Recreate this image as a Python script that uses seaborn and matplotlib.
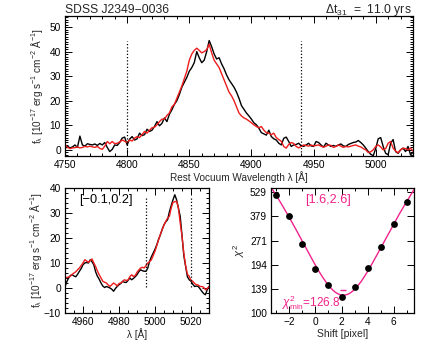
import numpy as np
import pandas as pd
import matplotlib
matplotlib.use("Agg")
import matplotlib.pyplot as plt
from matplotlib.ticker import MultipleLocator, FixedLocator, NullLocator, NullFormatter
import seaborn as sns

# ---------------- data ----------------
wl_top = np.arange(4750, 5031, 2)
flux_top_black = [
    0.5, 1.5, 0.8, 1.2, 2.0, 1.0, 5.6, 2.0, 1.5, 2.5,
    2.2, 2.0, 2.4, 1.8, 2.6, 2.0, 3.0, 1.0, -0.7, 0.2,
    2.0, 1.8, 3.0, 4.8, 5.2, 2.0, 4.4, 5.4, 4.0, 4.5,
    6.8, 5.8, 6.2, 8.4, 7.5, 8.0, 9.5, 11.5, 9.8, 10.8,
    13.0, 11.5, 14.5, 16.3, 18.5, 20.0, 22.5, 25.5, 27.5, 29.5,
    32.0, 33.5, 35.5, 40.0, 37.5, 35.5, 36.5, 40.0, 44.5, 42.0,
    39.0, 37.0, 37.5, 35.0, 33.0, 30.5, 28.5, 27.0, 25.5, 23.5,
    21.0, 18.0, 16.5, 15.0, 13.8, 12.5, 11.0, 10.2, 8.8, 7.0,
    6.5, 6.0, 8.0, 5.4, 4.5, 4.0, 2.7, 2.0, 4.7, 5.2,
    3.4, 1.4, 2.0, 2.2, 2.7, 1.6, 1.4, 2.0, 2.7, 1.6,
    1.4, 3.4, 3.0, 2.0, 1.1, 2.7, 2.0, 1.4, 1.8, 1.4,
    2.0, 2.4, 1.6, 1.4, 2.2, 2.6, 3.0, 3.2, 3.8, 3.0,
    2.0, 0.7, -0.7, -1.8, -2.4, 0.5, 4.5, 5.0, 1.4, -1.4,
    -2.0, 2.7, 4.2, -0.7, -1.4, 0.0, 0.7, -0.7, 1.4, -2.0,
    -1.0]
flux_top_red = [
    2.2, 1.0, 0.5, 0.8, 0.9, 1.2, 0.8, 1.0, 1.4, 1.2,
    1.5, 1.2, 1.0, 1.4, 0.6, 0.2, 1.5, 3.4, 2.5, 3.4,
    2.5, 2.7, 3.2, 4.0, 3.5, 3.0, 4.0, 3.6, 4.8, 5.4,
    5.0, 6.2, 7.5, 6.8, 8.0, 9.0, 9.2, 10.2, 11.5, 12.5,
    12.5, 14.0, 15.0, 17.5, 18.5, 21.0, 23.5, 26.0, 29.0, 32.0,
    36.5, 39.0, 40.5, 41.4, 40.5, 39.5, 40.0, 40.8, 43.0, 39.5,
    36.5, 35.0, 33.5, 31.0, 28.5, 26.0, 23.5, 22.0, 20.0, 17.5,
    15.0, 13.8, 13.0, 12.5, 11.8, 11.0, 10.2, 9.5, 9.0, 9.5,
    8.0, 7.0, 6.8, 6.2, 6.8, 5.0, 4.2, 3.5, 1.4, 0.7,
    2.2, 3.0, 2.6, 1.4, 0.8, 1.4, 2.0, 1.8, 1.5, 2.0,
    1.6, 1.8, 2.0, 1.5, 1.1, 1.5, 2.0, 1.8, 1.0, 1.4,
    2.0, 1.5, 1.0, 1.4, 1.2, 1.5, 1.8, 2.0, 1.5, 1.2,
    0.5, 0.0, -1.1, -0.8, 0.0, 1.4, 2.0, 1.2, 0.0, 0.5,
    2.7, 3.4, 0.7, -0.5, -1.2, 0.0, 0.7, 0.5, 0.0, 0.7,
    -0.5]
top_window = [4800, 4940]

wl_oiii = np.arange(4950, 5031, 1)
flux_oiii_black = [
    0.5, 2.5, 4.0, 5.0, 5.3, 4.8, 4.5, 5.5, 6.7, 7.8,
    9.3, 10.0, 10.2, 10.0, 11.3, 10.5, 9.3, 6.5, 4.7, 3.5,
    2.0, 0.8, 0.2, 0.6, 0.3, 0.0, -0.5, -1.3, -0.2, 0.6,
    1.3, 1.8, 2.7, 2.3, 2.2, 3.0, 4.0, 3.3, 3.8, 4.5,
    5.3, 6.5, 7.3, 6.9, 6.7, 6.7, 8.0, 10.7, 12.5, 14.0,
    15.5, 17.3, 19.5, 21.3, 23.5, 25.3, 26.5, 27.3, 30.5, 33.0,
    35.3, 37.3, 35.3, 32.0, 28.7, 21.0, 13.0, 8.7, 4.5, 3.3,
    2.7, 1.5, 0.6, 0.8, 0.6, -0.3, -1.3, -2.2, -2.7, -0.7,
    0.6]
flux_oiii_red = [
    4.0, 4.2, 4.4, 4.7, 5.5, 6.0, 6.5, 7.3, 8.0, 9.0,
    10.0, 11.3, 10.8, 10.3, 11.0, 11.6, 10.0, 8.6, 6.8, 5.3,
    4.0, 2.7, 2.3, 2.0, 1.2, 0.6, 1.3, 2.0, 1.5, 0.8,
    1.8, 2.0, 2.5, 3.3, 3.0, 3.2, 4.5, 5.3, 4.6, 5.0,
    6.3, 7.2, 8.0, 8.3, 8.0, 9.0, 10.0, 10.5, 11.3, 13.0,
    14.7, 17.0, 19.3, 21.5, 23.3, 25.2, 26.7, 28.0, 28.7, 32.0,
    34.3, 34.5, 34.7, 32.0, 26.0, 20.7, 14.0, 9.0, 5.5, 4.7,
    3.0, 2.7, 1.8, 1.3, 1.2, 0.6, 0.6, 0.3, -0.7, -0.3,
    0.6]
oiii_window = [4995, 5020]

shift_pix = [-3, -2, -1, 0, 1, 2, 3, 4, 5, 6, 7]
chi2_vals = [510, 382, 260, 183, 147, 124, 144, 186, 250, 342, 460]
chi2_ticks = [100, 139, 194, 271, 379, 529]

title_left = "SDSS J2349\u22120036"
title_right = r"$\Delta\mathrm{t_{31}}$  =  11.0 yrs"
oiii_range_text = "[\u22120.1,0.2]"
shift_range_text = "[1.6,2.6]"
chi2_min_text = r"$\chi^2_{\rm min}$=126.8"

# ---------------- style ----------------
sns.set_style("ticks")
plt.rcParams["font.family"] = ["Liberation Sans", "DejaVu Sans"]
plt.rcParams["mathtext.fontset"] = "custom"
plt.rcParams["mathtext.rm"] = "Liberation Sans"
plt.rcParams["mathtext.it"] = "Liberation Sans:italic"
plt.rcParams["mathtext.bf"] = "Liberation Sans:bold"
plt.rcParams["axes.linewidth"] = 0.9
plt.rcParams["axes.edgecolor"] = "black"

MAG = "#f0238c"
TICK_FS = 7.3
LAB_FS = 7.2

fig = plt.figure(figsize=(4.36, 3.49), dpi=100)
W, H = 436.0, 349.0

def box(l, r, t, b):
    return [l / W, 1 - b / H, (r - l) / W, (b - t) / H]

ax1 = fig.add_axes(box(65, 413, 16, 156))
ax2 = fig.add_axes(box(65, 209, 188, 313))
ax3 = fig.add_axes(box(271, 414, 188, 313))

def style_ticks(ax):
    ax.tick_params(which="both", direction="in", top=True, right=True,
                   labelsize=TICK_FS, colors="black", width=0.7, pad=3)
    ax.tick_params(which="major", length=5)
    ax.tick_params(which="minor", length=2.5)

ylab = r"$\mathrm{f_{\lambda}\ [10^{-17}\ erg\ s^{-1}\ cm^{-2}\ \AA^{-1}]}$"

# ---- top panel ----
df_top = pd.DataFrame({"wl": np.concatenate([wl_top, wl_top]),
                       "flux": flux_top_black + flux_top_red,
                       "epoch": ["black"] * len(wl_top) + ["red"] * len(wl_top)})
sns.lineplot(data=df_top, x="wl", y="flux", hue="epoch",
             palette={"black": "black", "red": "#ee1c1c"},
             linewidth=1.0, legend=False, ax=ax1, estimator=None)
for w in top_window:
    ax1.vlines(w, -1.0, 44.5, colors="black", linestyles=(0, (1, 1.6)), linewidth=0.9)
ax1.set_xlim(4750, 5030)
ax1.set_ylim(-2.5, 54.5)
ax1.xaxis.set_major_locator(MultipleLocator(50))
ax1.xaxis.set_minor_locator(MultipleLocator(10))
ax1.yaxis.set_major_locator(MultipleLocator(10))
ax1.yaxis.set_minor_locator(MultipleLocator(1))
style_ticks(ax1)
ax1.set_xlabel("Rest Vocuum Wavelength \u03bb [\u00c5]", fontsize=LAB_FS, labelpad=1)
ax1.set_ylabel(ylab, fontsize=LAB_FS, labelpad=3)

fig.text(65 / W, 1 - 13 / H, title_left, fontsize=8.7, ha="left", va="baseline")
fig.text(412 / W, 1 - 13 / H, title_right, fontsize=8.7, ha="right", va="baseline")

# ---- lower-left panel ----
df_o = pd.DataFrame({"wl": np.concatenate([wl_oiii, wl_oiii]),
                     "flux": flux_oiii_black + flux_oiii_red,
                     "epoch": ["black"] * len(wl_oiii) + ["red"] * len(wl_oiii)})
sns.lineplot(data=df_o, x="wl", y="flux", hue="epoch",
             palette={"black": "black", "red": "#ee1c1c"},
             linewidth=1.0, legend=False, ax=ax2, estimator=None)
for w in oiii_window:
    ax2.vlines(w, 0.5, 37.0, colors="black", linestyles=(0, (1, 1.6)), linewidth=0.9)
ax2.set_xlim(4950, 5030)
ax2.set_ylim(-10, 40)
ax2.xaxis.set_major_locator(MultipleLocator(20))
ax2.xaxis.set_minor_locator(MultipleLocator(5))
ax2.yaxis.set_major_locator(MultipleLocator(10))
ax2.yaxis.set_minor_locator(MultipleLocator(2))
style_ticks(ax2)
ax2.set_xlabel("\u03bb [\u00c5]", fontsize=LAB_FS, labelpad=1)
ax2.set_ylabel(ylab, fontsize=LAB_FS, labelpad=0)
ax2.text(0.10, 0.905, oiii_range_text, transform=ax2.transAxes,
         fontsize=9.2, ha="left", va="center", color="black")

# ---- chi2 panel ----
df_c = pd.DataFrame({"shift": shift_pix, "chi2": chi2_vals})
coef = np.polyfit(df_c["shift"], df_c["chi2"], 2)
xs = np.linspace(-3.4, 7.55, 300)
df_fit = pd.DataFrame({"shift": xs, "chi2": np.polyval(coef, xs)})
sns.lineplot(data=df_fit, x="shift", y="chi2", color=MAG, linewidth=1.0, ax=ax3)
sns.scatterplot(data=df_c, x="shift", y="chi2", color="black", s=24,
                edgecolor="black", linewidth=0, ax=ax3, zorder=3)
x0 = -coef[1] / (2 * coef[0])
ax3.plot([x0], [np.polyval(coef, x0) * 1.07], marker="_", color=MAG,
         markersize=5, markeredgewidth=1.0)
ax3.set_yscale("log")
ax3.set_xlim(-3.4, 7.55)
ax3.set_ylim(100, 561)
ax3.yaxis.set_major_locator(FixedLocator(chi2_ticks))
ax3.yaxis.set_minor_locator(NullLocator())
ax3.yaxis.set_minor_formatter(NullFormatter())
ax3.set_yticklabels([str(t) for t in chi2_ticks])
ax3.xaxis.set_major_locator(MultipleLocator(2))
ax3.xaxis.set_minor_locator(MultipleLocator(1))
style_ticks(ax3)
ax3.set_xlabel("Shift [pixel]", fontsize=LAB_FS + 0.3, labelpad=1)
ax3.set_ylabel(r"$\chi^2$", fontsize=8, labelpad=2)
ax3.text(0.40, 0.90, shift_range_text, transform=ax3.transAxes,
         fontsize=9.2, ha="center", va="center", color=MAG)
ax3.text(0.075, 0.05, chi2_min_text, transform=ax3.transAxes,
         fontsize=8.5, ha="left", va="baseline", color=MAG)

fig.savefig("out.png", dpi=100)
